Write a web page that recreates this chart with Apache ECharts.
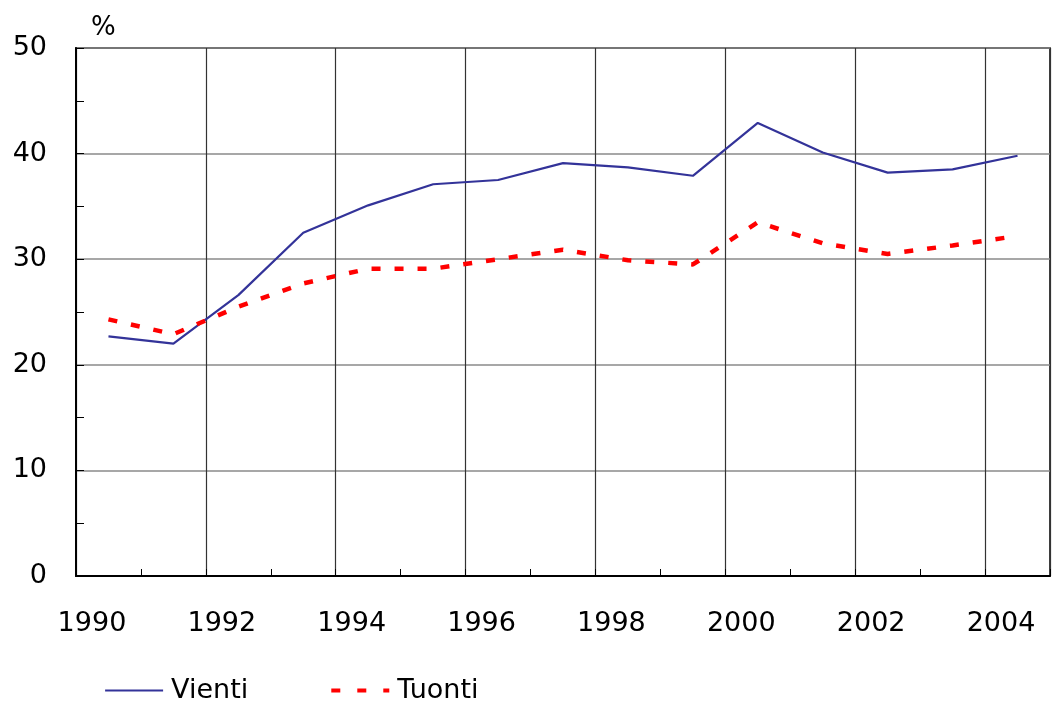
<!DOCTYPE html>
<html>
<head>
<meta charset="utf-8">
<script src="https://cdn.jsdelivr.net/npm/echarts@6/dist/echarts.min.js"></script>
<style>
html,body{margin:0;padding:0;background:#fff;}
#chart{width:1052px;height:702px;}
</style>
</head>
<body>
<div id="chart"></div>
<script>
const years = ['1990','1991','1992','1993','1994','1995','1996','1997','1998','1999','2000','2001','2002','2003','2004'];
const vienti = [22.7, 22.0, 26.6, 32.5, 35.1, 37.1, 37.5, 39.1, 38.7, 37.9, 42.9, 40.1, 38.2, 38.5, 39.8];
const tuonti = [24.3, 22.9, 25.5, 27.7, 29.1, 29.1, 30.0, 30.9, 29.9, 29.5, 33.5, 31.5, 30.5, 31.3, 32.2];
const yTicks = [0, 10, 20, 30, 40, 50];

const FONT = "'DejaVu Sans', sans-serif";
const chart = echarts.init(document.getElementById('chart'), null, {renderer: 'canvas'});
chart.setOption({
  animation: false,
  backgroundColor: '#ffffff',
  title: {
    text: '%', left: 86, top: 10,
    textStyle: {fontFamily: FONT, fontSize: 26, fontWeight: 'normal', color: '#000'}
  },
  grid: {left: 76, right: 2, top: 48, bottom: 126, show: true, borderColor: '#000', borderWidth: 1.5, backgroundColor: 'transparent'},
  legend: {
    left: 99, top: 672, itemWidth: 58, itemHeight: 14, itemGap: 81,
    textStyle: {fontFamily: FONT, fontSize: 27, color: '#000', padding: [0, 0, 0, 3]},
    itemStyle: {opacity: 0},
    data: [
      {name: 'Vienti', lineStyle: {width: 2.2}},
      {name: 'Tuonti', lineStyle: {width: 4, type: [9, 17]}}
    ]
  },
  xAxis: {
    type: 'category', data: years, boundaryGap: true,
    axisLine: {lineStyle: {color: '#000', width: 2}},
    axisTick: {show: true, inside: true, length: 7, interval: 0, lineStyle: {color: '#000', width: 1}},
    axisLabel: {interval: 1, margin: 34, padding: [0, 33, 0, 0], fontFamily: FONT, fontSize: 27, color: '#000'},
    splitLine: {show: true, interval: 1, lineStyle: {color: '#333333', width: 1.2}}
  },
  yAxis: {
    type: 'value', min: yTicks[0], max: yTicks[yTicks.length - 1], interval: 10,
    axisLine: {show: true, lineStyle: {color: '#000', width: 2}},
    axisTick: {show: true, inside: true, length: 8, lineStyle: {color: '#000'}},
    minorTick: {show: true, splitNumber: 2, length: 8, lineStyle: {color: '#000', width: 1}},
    axisLabel: {margin: 29, padding: [3, 0, 0, 0], fontFamily: FONT, fontSize: 27, color: '#000'},
    splitLine: {show: true, lineStyle: {color: '#8a8a8a', width: 1.5}}
  },
  series: [
    {
      name: 'Vienti', type: 'line', data: vienti, symbol: 'none',
      lineStyle: {color: '#333399', width: 2.2}, itemStyle: {color: '#333399'}
    },
    {
      name: 'Tuonti', type: 'line', data: tuonti, symbol: 'none',
      lineStyle: {color: '#ff0000', width: 4.5, type: [9, 14]}, itemStyle: {color: '#ff0000'}
    }
  ]
});
</script>
</body>
</html>
